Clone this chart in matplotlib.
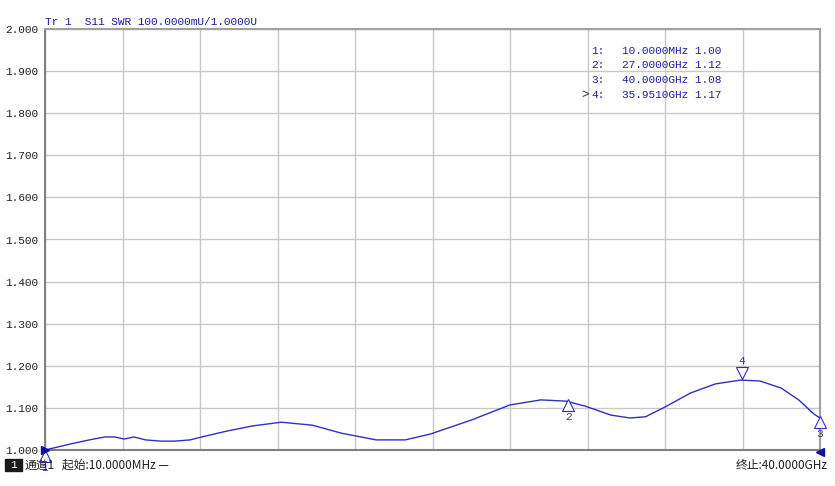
import matplotlib.pyplot as plt
from matplotlib.patches import Rectangle

# Trace data (GHz, SWR)
freq_ghz = [0.01, 1.3, 2.3, 3.1, 3.6, 4.1, 4.6, 5.2, 6.0, 6.7, 7.5, 8.1, 9.4,
            10.7, 12.2, 13.8, 15.3, 17.1, 18.6, 19.9, 22.0, 24.0, 25.6, 26.9,
            27.9, 29.2, 30.2, 31.0, 32.0, 33.3, 34.6, 35.9, 36.9, 38.0, 38.9,
            39.7, 40.0]
swr = [1.000, 1.014, 1.024, 1.031, 1.031, 1.026, 1.031, 1.024, 1.021, 1.021,
       1.024, 1.031, 1.045, 1.057, 1.066, 1.059, 1.040, 1.024, 1.024, 1.038,
       1.071, 1.107, 1.119, 1.116, 1.104, 1.083, 1.076, 1.079, 1.102, 1.135,
       1.157, 1.166, 1.164, 1.147, 1.119, 1.085, 1.076]

# Markers
marker_ids = ["1", "2", "3", "4"]
marker_freq = [0.01, 27.0, 40.0, 35.951]
marker_swr = [1.00, 1.12, 1.08, 1.17]
marker_text = ["10.0000MHz", "27.0000GHz", "40.0000GHz", "35.9510GHz"]
active_marker = "4"

y_ticks = [1.0, 1.1, 1.2, 1.3, 1.4, 1.5, 1.6, 1.7, 1.8, 1.9, 2.0]

TRACE = "#3030c0"
MONO = "Liberation Mono"
CJK = ["Noto Sans CJK SC", "DejaVu Sans"]

fig = plt.figure(figsize=(8.35, 4.86), dpi=100)
W, H = 835, 486
ax = fig.add_axes([45 / W, 36 / H, 775 / W, 421 / H])

ax.plot(freq_ghz, swr, color=TRACE, lw=1.0, zorder=3)

ax.set_xlim(0.01, 40.0)
ax.set_ylim(1.0, 2.0)
x_grid = [0.01 + i * (40.0 - 0.01) / 10 for i in range(11)]
ax.set_xticks(x_grid)
ax.set_yticks(y_ticks)
ax.set_yticklabels([f"{v:.3f}" for v in y_ticks], fontfamily=MONO, fontsize=8)
ax.tick_params(axis="x", length=0, labelbottom=False)
ax.tick_params(axis="y", length=0, pad=5, colors="#202020")
ax.grid(True, color="#c8c8c8", lw=1.0)
for s in ax.spines.values():
    s.set_color("#a0a0a0")
    s.set_linewidth(1.5)
ax.spines["bottom"].set_color("#808080")
ax.spines["left"].set_color("#808080")

# Marker triangles
for mid, f, v in zip(marker_ids, marker_freq, marker_swr):
    if mid == "4":
        ax.plot(f, v + 0.014, marker="v", ms=9, mfc="white", mec=TRACE,
                mew=0.8, zorder=4, clip_on=False)
        ax.text(f, v + 0.03, mid, color=TRACE, ha="center", va="bottom",
                fontsize=8, fontfamily=MONO)
    else:
        ax.plot(f, v - 0.014, marker="^", ms=9, mfc="white", mec=TRACE,
                mew=0.8, zorder=4, clip_on=False)
        ax.text(f, v - 0.03, mid, color=TRACE, ha="center", va="top",
                fontsize=8, fontfamily=MONO, clip_on=False)

# reference / end arrows
ax.plot(0.01, 1.0, marker=">", ms=6, color="#1010a0", clip_on=False, zorder=5)
ax.plot(40.0, 0.995, marker="<", ms=6, color="#1010a0", clip_on=False, zorder=5)

# Header
fig.text(45 / W, 1 - 22 / H, "Tr 1  S11 SWR 100.0000mU/1.0000U", color="#1a1aa0",
         fontsize=8, fontfamily=MONO, va="center")

# Marker table
for i, (mid, txt, v) in enumerate(zip(marker_ids, marker_text, marker_swr)):
    y = 1 - (51 + i * 14.5) / H
    fig.text(591 / W, y, f"{mid}:", color="#2020a0", fontsize=8,
             fontfamily=MONO, va="center")
    if mid == active_marker:
        fig.text(589 / W, y, ">", color="#2020a0", fontsize=9,
                 fontfamily=MONO, va="center", ha="right")
    fig.text(622 / W, y, f"{txt} {v:.2f}", color="#2020a0", fontsize=8,
             fontfamily=MONO, va="center")

# Bottom status line
fig.patches.append(Rectangle((5 / W, 1 - 471 / H), 17 / W, 12 / H,
                             transform=fig.transFigure, color="#1a1a1a"))
fig.text(13.5 / W, 1 - 465 / H, "1", color="white", fontsize=8,
         fontfamily=MONO, ha="center", va="center")
fig.text(25 / W, 1 - 465 / H, "通道1", fontsize=8.5, family=CJK, va="center",
         color="#202020")
fig.text(62 / W, 1 - 465 / H, "起始:10.0000MHz —", fontsize=8.5, family=CJK,
         va="center", color="#202020")
fig.text(828 / W, 1 - 465 / H, "终止:40.0000GHz", fontsize=8.5, family=CJK,
         va="center", ha="right", color="#202020")

fig.savefig("out.png", dpi=100)
